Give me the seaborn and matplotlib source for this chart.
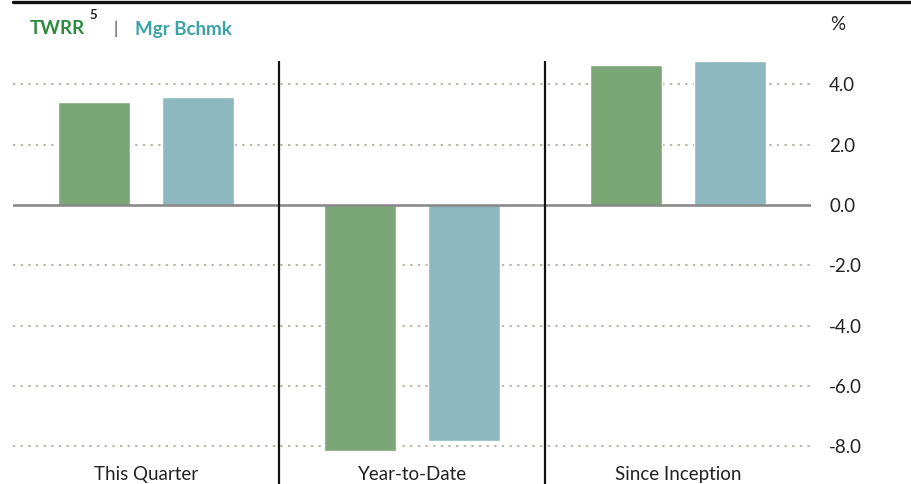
import matplotlib
matplotlib.use("Agg")
import matplotlib.pyplot as plt
import seaborn as sns
import pandas as pd
from matplotlib.lines import Line2D

categories = ["This Quarter", "Year-to-Date", "Since Inception"]
series_names = ["TWRR", "Mgr Bchmk"]
twrr = [3.42, -8.17, 4.65]
bchmk = [3.59, -7.84, 4.78]
yticks = [4.0, 2.0, 0.0, -2.0, -4.0, -6.0, -8.0]

sns.set_theme(style="white")
plt.rcParams["font.family"] = ["Lato", "DejaVu Sans"]

df = pd.DataFrame({
    "category": categories * 2,
    "series": [series_names[0]] * 3 + [series_names[1]] * 3,
    "value": twrr + bchmk,
})

W, H = 911, 484
fig = plt.figure(figsize=(W / 100, H / 100), dpi=100)
ax = fig.add_axes([13 / W, 0, (811 - 13) / W, (484 - 61) / H])

palette = {"TWRR": "#7ba776", "Mgr Bchmk": "#8db8c0"}
sns.barplot(data=df, x="category", y="value", hue="series", order=categories,
            hue_order=series_names, palette=palette, width=0.776, gap=0.304,
            saturation=1, legend=False, ax=ax, zorder=3, errorbar=None)

ax.set_xlim(-0.5, 2.5)
px = (205 - 61) / 4.78
ax.set_ylim(-(484 - 205) / px, 4.78)

for y in yticks:
    if y != 0:
        ax.axhline(y, color="#a3a395", lw=1.1, ls=(0, (1.5, 3.5)), zorder=1)
ax.axhline(0, color="#858585", lw=1.8, zorder=4)
for x in [0.5, 1.5]:
    ax.axvline(x, color="#111111", lw=1.6, zorder=5)

for s in ax.spines.values():
    s.set_visible(False)
ax.yaxis.tick_right()
ax.set_yticks(yticks)
ax.set_yticklabels([f"{v:.1f}" for v in yticks])
ax.tick_params(axis="y", length=0, pad=13, labelsize=13.5, labelcolor="#222222")
ax.set_xticks([])
ax.set_xlabel("")
ax.set_ylabel("")

for i, c in enumerate(categories):
    ax.text(i, -(474 - 205) / px, c, ha="center", va="center", fontsize=13.5, color="#222222")

fig.add_artist(Line2D([13 / W, 1], [1 - 1.5 / H, 1 - 1.5 / H], color="#111111", lw=2.4, transform=fig.transFigure))

fig.text(30 / W, 1 - 29 / H, "TWRR", color="#2e8b3e", fontsize=13.5, fontweight="bold", va="center", ha="left")
fig.text(89 / W, 1 - 15 / H, "5", color="#222222", fontsize=9.5, fontweight="bold", va="center", ha="left")
fig.text(116 / W, 1 - 29 / H, "|", color="#444444", fontsize=12, va="center", ha="center")
fig.text(135 / W, 1 - 29 / H, "Mgr Bchmk", color="#3ba3a8", fontsize=13.5, fontweight="bold", va="center", ha="left")
fig.text(830 / W, 1 - 25 / H, "%", color="#222222", fontsize=13.5, va="center", ha="left")

fig.savefig("out.png", dpi=100)
